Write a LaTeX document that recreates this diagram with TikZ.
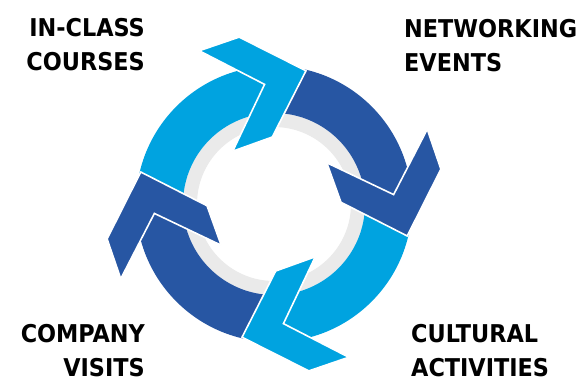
\documentclass[tikz,border=0pt]{standalone}
\usepackage{fontspec}
\setmainfont{DejaVu Sans Condensed}[FakeStretch=1.015]
\definecolor{lightblu}{HTML}{00A3E0}
\definecolor{darkblu}{HTML}{2756A3}
\definecolor{ringgray}{HTML}{EAEAEA}
\tikzset{
  chev/.style={draw=white, line width=1.6pt, line join=miter},
  lbl/.style={inner sep=0pt, font=\fontsize{24.5}{34}\selectfont\bfseries, text=black}
}
\newcommand{\chevron}[2]{%
  \filldraw[chev, fill=#2, rotate=#1]
    (116:170.5) -- (101.8:170.5) -- (76.5:137) -- (91.5:67) -- (128:67) -- (94.5:120) -- cycle;}
\newcommand{\bandarc}[3]{%
  \fill[#3] (#1:91) arc[start angle=#1, end angle=#2, radius=91]
     -- (#2:138) arc[start angle=#2, end angle=#1, radius=138] -- cycle;}
\begin{document}
\begin{tikzpicture}[x=1pt,y=1pt]
\useasboundingbox[fill=white] (-274,-177) rectangle (303,204);
% gray ring
\fill[ringgray, even odd rule] (0,0) circle[radius=91] (0,0) circle[radius=77];
% arcs
\bandarc{90}{180}{lightblu}
\bandarc{0}{90}{darkblu}
\bandarc{-90}{0}{lightblu}
\bandarc{180}{270}{darkblu}
% chevrons
\chevron{0}{lightblu}
\chevron{-90}{darkblu}
\chevron{-180}{lightblu}
\chevron{90}{darkblu}
% labels
\node[lbl, anchor=north east, align=right] (inclass) at (-129,186) {IN-CLASS\\COURSES};
\node[lbl, anchor=north west, align=left] (network) at (130,185) {NETWORKING\\EVENTS};
\node[lbl, anchor=north east, align=right] (company) at (-129,-120) {COMPANY\\VISITS};
\node[lbl, anchor=north west, align=left] (cultural) at (137,-120) {CULTURAL\\ACTIVITIES};
\end{tikzpicture}
\end{document}
